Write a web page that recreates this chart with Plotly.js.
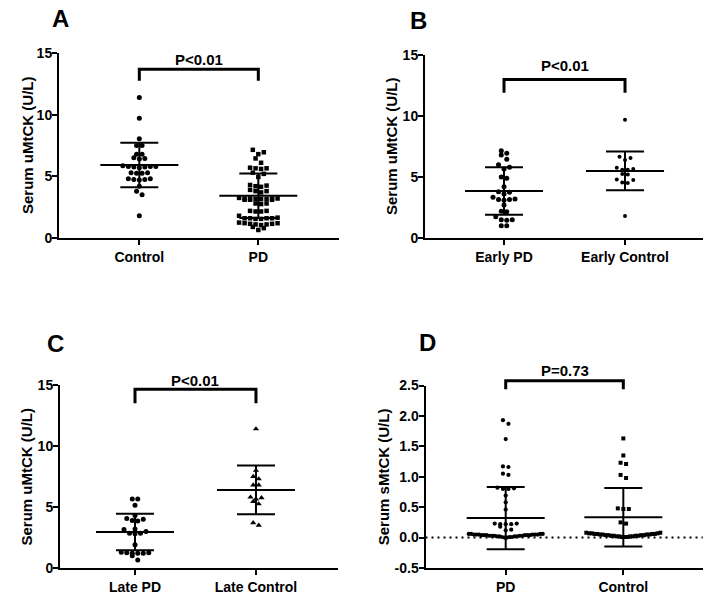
<!DOCTYPE html>
<html>
<head>
<meta charset="utf-8">
<script src="https://cdn.plot.ly/plotly-3.0.1.min.js"></script>
<style>
body { margin: 0; background: white; }
#chart { width: 715px; height: 608px; }
</style>
</head>
<body>
<div id="chart"></div>
<script>
//Data

let groupsA = ['Control', 'PD'];
let controlA = [11.4, 9.7, 8.05, 7.5, 7.5, 6.8, 6.8, 6.5, 6.45, 6.4, 5.85, 5.8, 5.8, 5.8, 5.75, 5.75, 5.7,
    5.3, 5.3, 5.25, 5.25, 4.8, 4.8, 4.75, 4.75, 4.7, 4.2, 3.8, 3.5, 1.8];
let pdA = [7.15, 6.95, 6.8, 6.45, 6.1, 5.7, 5.65, 5.65, 5.6, 5.3, 5.2, 4.95, 4.3, 4.25, 4.2, 4.15, 3.9, 3.8, 3.8, 3.7,
    3.25, 3.2, 3.2, 3.2, 3.2, 3.15, 3.15, 3.15, 3.1, 3.1, 3.1, 2.8, 2.8, 2.75, 2.2, 2.2, 2.15, 2.15, 1.8,
    1.65, 1.6, 1.6, 1.6, 1.6, 1.55, 1.55, 1.25, 1.2, 1.2, 1.15, 1.15, 1.1, 1.1, 1.05, 0.9, 0.8, 0.65];
let meanA = [5.92, 3.42];
let sdA = [1.8, 1.8];

let groupsB = ['Early PD', 'Early Control'];
let earlyPdB = [7.15, 6.95, 6.8, 6.45, 6.0, 5.8, 5.65, 5.0, 4.9, 4.2, 3.8, 3.75, 3.6, 3.35, 3.2, 3.15, 3.15, 3.1,
    2.7, 2.2, 2.15, 1.75, 1.5, 1.5, 1.45, 1.0, 1.0];
let earlyControlB = [9.7, 6.65, 6.55, 6.4, 5.75, 5.65, 5.6, 5.6, 5.25, 5.2, 4.8, 4.75, 4.55, 4.5, 1.8];
let meanB = [3.85, 5.5];
let sdB = [1.95, 1.58];

let groupsC = ['Late PD', 'Late Control'];
let latePdC = [5.65, 5.65, 5.15, 4.3, 4.05, 4.0, 3.9, 3.85, 3.2, 3.15, 3.0, 2.85, 2.85, 2.8, 1.9,
    1.3, 1.25, 1.25, 1.2, 1.2, 1.2, 1.0, 0.65];
let lateControlC = [11.4, 8.0, 7.5, 7.3, 6.8, 6.8, 5.8, 5.75, 5.65, 5.45, 5.25, 3.7, 3.5];
let meanC = [2.95, 6.4];
let sdC = [1.5, 2.0];

let groupsD = ['PD', 'Control'];
let pdD = [1.93, 1.87, 1.62, 1.17, 1.16, 1.05, 1.03, 0.82, 0.81, 0.8, 0.8, 0.69, 0.58, 0.46,
    0.23, 0.23, 0.22, 0.22, 0.22, 0.18, 0.13, 0.12,
    0.0, 0.0, 0.01, 0.01, 0.01, 0.02, 0.02, 0.02, 0.02, 0.03, 0.03, 0.03, 0.03, 0.03, 0.04,
    0.04, 0.04, 0.04, 0.04, 0.04, 0.05, 0.05, 0.05, 0.05, 0.05, 0.05, 0.06, 0.06, 0.06, 0.06];
let controlD = [1.63, 1.35, 1.23, 1.21, 1.03, 0.98, 0.48, 0.47, 0.47, 0.25, 0.23,
    0.01, 0.01, 0.01, 0.02, 0.02, 0.02, 0.02, 0.03, 0.03, 0.03, 0.03, 0.04, 0.04, 0.04,
    0.04, 0.05, 0.05, 0.05, 0.05, 0.06, 0.06, 0.06, 0.06, 0.07, 0.07, 0.07, 0.08, 0.08];
let meanD = [0.32, 0.335];
let sdD = [0.51, 0.48];

let pLabels = ['P&lt;0.01', 'P&lt;0.01', 'P&lt;0.01', 'P=0.73'];

//Panel setup (pixel boxes of each plot area)
const W = 715, H = 608;
let panels = [
    {letter: 'A', groups: groupsA, series: [controlA, pdA], mean: meanA, sd: sdA,
     symbols: ['circle', 'square'], sizes: [5, 4.5],
     box: [59, 339, 53, 238], xrange: [-0.675, 1.678], yrange: [0, 15],
     ytitle: 'Serum uMtCK (U/L)', titleX: 27.5, letterPos: [60, 18.5],
     bracket: [13.68, 12.76], pY: 14.5},
    {letter: 'B', groups: groupsB, series: [earlyPdB, earlyControlB], mean: meanB, sd: sdB,
     symbols: ['circle', 'circle'], sizes: [5, 4],
     box: [425, 702.7, 55, 238], xrange: [-0.653, 1.642], yrange: [0, 15],
     ytitle: 'Serum uMtCK (U/L)', titleX: 391.5, letterPos: [418, 20],
     bracket: [13.0, 11.9], pY: 14.1},
    {letter: 'C', groups: groupsC, series: [latePdC, lateControlC], mean: meanC, sd: sdC,
     symbols: ['circle', 'triangle-up'], sizes: [5, 5.5],
     box: [60, 338, 385, 568], xrange: [-0.62, 1.678], yrange: [0, 15],
     ytitle: 'Serum uMtCK (U/L)', titleX: 26, letterPos: [55.5, 343.5],
     bracket: [14.65, 13.5], pY: 15.37},
    {letter: 'D', groups: groupsD, series: [pdD, controlD], mean: meanD, sd: sdD,
     symbols: ['circle', 'square'], sizes: [4.2, 4],
     box: [425.5, 702.7, 385.5, 568], xrange: [-0.682, 1.675], yrange: [-0.5, 2.5],
     ytitle: 'Serum sMtCK (U/L)', titleX: 383.5, letterPos: [427.5, 342.5],
     bracket: [2.58, 2.44], pY: 2.75}
];

let Params = {
    gapPx: 5.5,      // horizontal gap between dots in a row
    binPx: 4.8,      // values closer than this (in px) share a row
    maxHalfPx: 37,   // rows get squeezed past this half width
    meanHalfPx: 39,
    capHalfPx: 19
};

// Prism like scatter: values grouped into rows, row spread out from the centre
function swarm(values, center, pxX, pxY) {
    let sorted = values.slice().sort((a, b) => a - b);
    let xs = [], ys = [];
    let i = 0;
    while (i < sorted.length) {
        let row = [sorted[i]];
        let j = i + 1;
        while (j < sorted.length && (sorted[j] - sorted[i]) * pxY < Params.binPx) {
            row.push(sorted[j]);
            j++;
        }
        let n = row.length;
        let gap = Params.gapPx;
        if (n > 1) gap = Math.min(gap, 2 * Params.maxHalfPx / (n - 1));
        for (let k = 0; k < n; k++) {
            let slot;
            if (n % 2 === 1) {
                slot = k === 0 ? 0 : Math.ceil(k / 2) * (k % 2 === 1 ? 1 : -1);
            } else {
                slot = (Math.floor(k / 2) + 0.5) * (k % 2 === 0 ? 1 : -1);
            }
            xs.push(center + slot * gap / pxX);
            ys.push(row[k]);
        }
        i = j;
    }
    return [xs, ys];
}

let data = [];
let layout = {
    width: W, height: H,
    margin: {l: 0, r: 0, t: 0, b: 0},
    paper_bgcolor: 'white', plot_bgcolor: 'white',
    showlegend: false,
    font: {family: 'Liberation Sans, Arial, sans-serif', color: '#000', weight: 'bold'},
    shapes: [],
    annotations: []
};

panels.forEach(function(p, idx) {
    let s = idx === 0 ? '' : String(idx + 1);
    let xName = 'x' + s, yName = 'y' + s;
    let pxX = (p.box[1] - p.box[0]) / (p.xrange[1] - p.xrange[0]);
    let pxY = (p.box[3] - p.box[2]) / (p.yrange[1] - p.yrange[0]);
    // value -> fraction of the subplot, so brackets above the axis top are not clipped
    let fx = v => (v - p.xrange[0]) / (p.xrange[1] - p.xrange[0]);
    let fy = v => (v - p.yrange[0]) / (p.yrange[1] - p.yrange[0]);

    p.series.forEach(function(vals, g) {
        let sw = swarm(vals, g, pxX, pxY);
        data.push({
            type: 'scatter', mode: 'markers',
            x: sw[0], y: sw[1],
            xaxis: xName, yaxis: yName,
            marker: {symbol: p.symbols[g], size: p.sizes[g], color: '#000'},
            cliponaxis: false,
            hoverinfo: 'y'
        });
    });

    // mean line + SD whiskers
    data.push({
        type: 'scatter', mode: 'markers',
        x: [0, 1], y: p.mean,
        xaxis: xName, yaxis: yName,
        marker: {size: 1, color: 'rgba(0,0,0,0)'},
        error_x: {type: 'constant', value: Params.meanHalfPx / pxX, width: 0, thickness: 2, color: '#000'},
        error_y: {type: 'data', array: p.sd, width: Params.capHalfPx, thickness: 2, color: '#000'},
        cliponaxis: false,
        hoverinfo: 'skip'
    });

    let yTicks = [], yText = [];
    if (p.yrange[1] === 15) {
        yTicks = [0, 5, 10, 15];
        yText = ['0', '5', '10', '15'];
    } else {
        yTicks = [-0.5, 0, 0.5, 1, 1.5, 2, 2.5];
        yText = ['-0.5', '0.0', '0.5', '1.0', '1.5', '2.0', '2.5'];
    }

    layout['xaxis' + s] = {
        domain: [p.box[0] / W, p.box[1] / W],
        range: p.xrange,
        anchor: yName,
        tickvals: [0, 1], ticktext: p.groups,
        showline: true, linewidth: 2, linecolor: '#000',
        ticks: 'outside', ticklen: 5, tickwidth: 2, tickcolor: '#000',
        tickfont: {size: 14, weight: 'bold'},
        showgrid: false, zeroline: false, fixedrange: true
    };
    layout['yaxis' + s] = {
        domain: [1 - p.box[3] / H, 1 - p.box[2] / H],
        range: p.yrange,
        anchor: xName,
        tickvals: yTicks, ticktext: yText,
        showline: true, linewidth: 2, linecolor: '#000',
        ticks: 'outside', ticklen: 5, tickwidth: 2, tickcolor: '#000',
        tickfont: {size: 14, weight: 'bold'},
        ticklabelstandoff: -3,
        showgrid: false, zeroline: false, fixedrange: true
    };

    // significance bracket
    let xd = xName + ' domain', yd = yName + ' domain';
    layout.shapes.push({
        type: 'path', xref: xd, yref: yd,
        path: 'M' + fx(0) + ',' + fy(p.bracket[1]) + ' L' + fx(0) + ',' + fy(p.bracket[0]) +
              ' L' + fx(1) + ',' + fy(p.bracket[0]) + ' L' + fx(1) + ',' + fy(p.bracket[1]),
        line: {color: '#000', width: 3}
    });
    layout.annotations.push({
        xref: xd, yref: yd, x: fx(0.5), y: fy(p.pY),
        text: pLabels[idx], showarrow: false,
        xanchor: 'center', yanchor: 'middle',
        font: {size: 15, weight: 'bold'}
    });

    // axis title
    layout.annotations.push({
        xref: 'paper', yref: 'paper',
        x: p.titleX / W, y: 1 - (p.box[2] + p.box[3]) / 2 / H,
        text: p.ytitle, textangle: -90, showarrow: false,
        xanchor: 'center', yanchor: 'middle',
        font: {size: 15, weight: 'bold'}
    });

    // panel letter
    layout.annotations.push({
        xref: 'paper', yref: 'paper',
        x: p.letterPos[0] / W, y: 1 - p.letterPos[1] / H,
        text: p.letter, showarrow: false,
        xanchor: 'center', yanchor: 'middle',
        font: {size: 24, weight: 'bold'}
    });
});

// dotted zero line in panel D
layout.shapes.push({
    type: 'line', xref: 'x4 domain', yref: 'y4',
    x0: 0, x1: 1, y0: 0, y1: 0,
    line: {color: '#000', width: 2, dash: '2px,4px'}
});

Plotly.newPlot('chart', data, layout, {displayModeBar: false, staticPlot: true});
</script>
</body>
</html>
